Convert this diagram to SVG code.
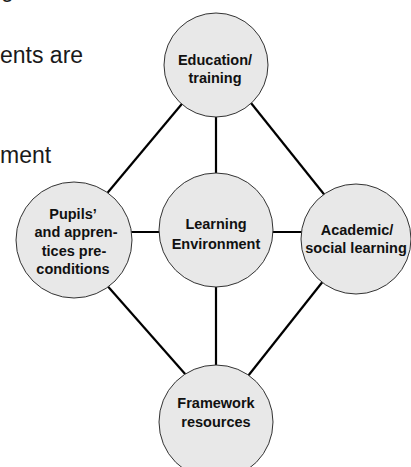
<svg xmlns="http://www.w3.org/2000/svg" width="411" height="467" viewBox="0 0 411 467">
  <style>
    .bg { fill: #ffffff; }
    .page { font-family: "Liberation Sans", Arial, sans-serif; font-size: 23px; fill: #1a1a1a; }
    .link { stroke: #000000; stroke-width: 2.2; stroke-linecap: butt; fill: none; }
    .node circle { fill: #e8e8e8; stroke: #333333; stroke-width: 1; }
    .node text { font-family: "Liberation Sans", Arial, sans-serif; font-weight: bold; font-size: 14.5px; fill: #111111; text-anchor: middle; }
  </style>

  <rect class="bg" x="0" y="0" width="411" height="467"/>

  <!-- surrounding page text, cut off at the left edge -->
  <text class="page" x="1" y="-3">g</text>
  <text class="page" x="0" y="63">ents are</text>
  <text class="page" x="0" y="163">ment</text>

  <!-- connectors -->
  <g id="connectors">
    <line class="link" x1="186" y1="99" x2="104" y2="197"/>
    <line class="link" x1="247" y1="98" x2="327" y2="198"/>
    <line class="link" x1="216" y1="110" x2="216" y2="179"/>
    <line class="link" x1="126" y1="232" x2="165" y2="232"/>
    <line class="link" x1="268" y1="232" x2="308" y2="232"/>
    <line class="link" x1="104" y1="282" x2="186" y2="375"/>
    <line class="link" x1="324" y1="280" x2="248" y2="376"/>
    <line class="link" x1="216" y1="281" x2="216" y2="371"/>
  </g>

  <g id="education" class="node">
    <circle cx="216" cy="65" r="52"/>
    <text x="215" y="65">Education/</text>
    <text x="215" y="83">training</text>
  </g>

  <g id="learning-environment" class="node">
    <circle cx="216" cy="230" r="57"/>
    <text x="216" y="229">Learning</text>
    <text x="216" y="249">Environment</text>
  </g>

  <g id="pupils" class="node">
    <circle cx="74" cy="240" r="58"/>
    <text x="73" y="219">Pupils’</text>
    <text x="76" y="237">and appren-</text>
    <text x="74" y="256">tices pre-</text>
    <text x="73" y="274">conditions</text>
  </g>

  <g id="academic" class="node">
    <circle cx="356" cy="239" r="55"/>
    <text x="357" y="235">Academic/</text>
    <text x="356" y="253">social learning</text>
  </g>

  <g id="framework" class="node">
    <circle cx="216" cy="422" r="57"/>
    <text x="216" y="408">Framework</text>
    <text x="216" y="427">resources</text>
  </g>
</svg>
